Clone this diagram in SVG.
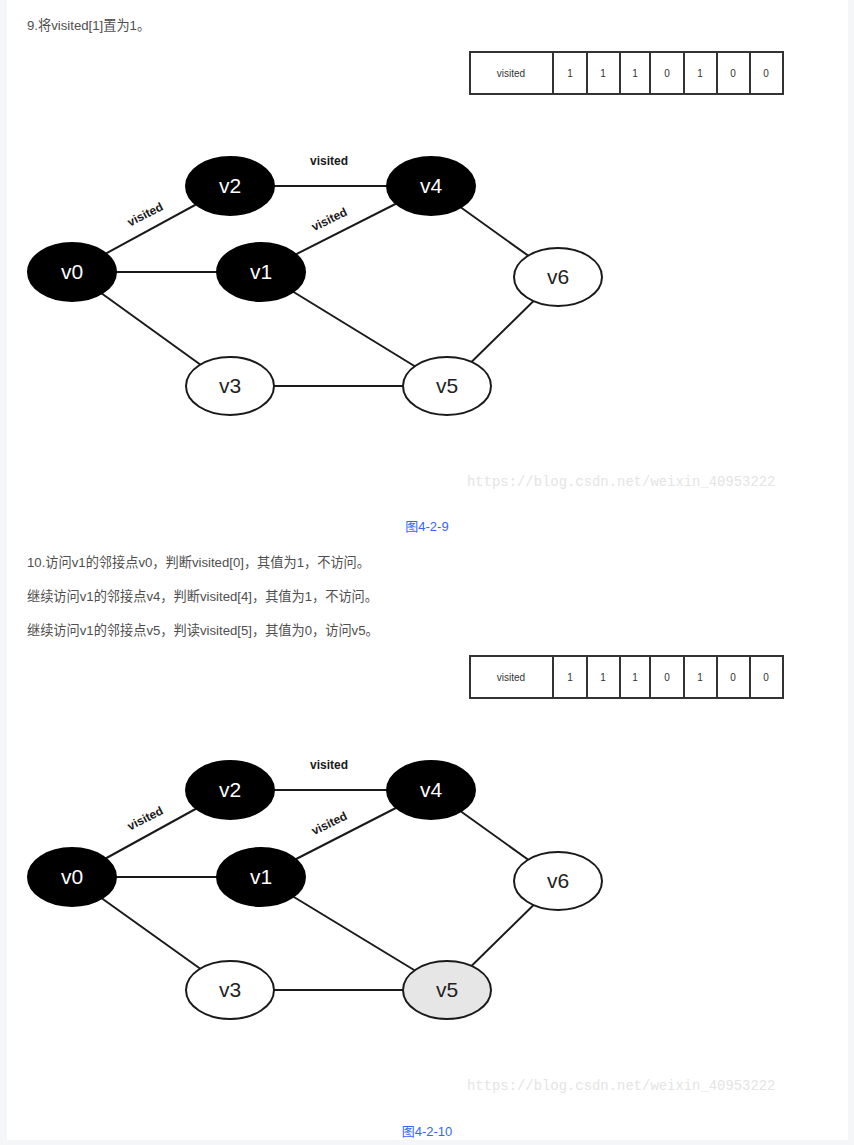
<svg xmlns="http://www.w3.org/2000/svg" width="854" height="1145" viewBox="0 0 854 1145">
<style>
.body{font-family:"Liberation Sans","Noto Sans CJK SC",sans-serif;font-size:13.2px;fill:#4f4f4f}
.cap{font-family:"Liberation Sans","Noto Sans CJK SC",sans-serif;font-size:13px;fill:#3366ff;text-anchor:middle}
.wm{font-family:"Liberation Mono",monospace;font-size:13.9px;fill:#e4e4e4}
.cell{fill:#fff;stroke:#333;stroke-width:2}
.ct{font-family:"Liberation Sans",sans-serif;font-size:10px;fill:#333;text-anchor:middle}
.edge{stroke:#1a1a1a;stroke-width:2;fill:none}
.elab{font-family:"Liberation Sans",sans-serif;font-size:12px;font-weight:bold;fill:#1a1a1a;text-anchor:middle}
.nb{fill:#000;stroke:#000;stroke-width:2}
.nw{fill:#fff;stroke:#1a1a1a;stroke-width:2}
.ng{fill:#e6e6e6;stroke:#1a1a1a;stroke-width:2}
.lb{font-family:"Liberation Sans",sans-serif;font-size:21px;fill:#fff;text-anchor:middle}
.lw{font-family:"Liberation Sans",sans-serif;font-size:21px;fill:#222;text-anchor:middle}
</style>
<rect x="0" y="0" width="854" height="1145" fill="#f5f6f7"/>
<rect x="7" y="0" width="841" height="1140" fill="#fff"/>

<text class="body" x="27" y="30">9.将visited[1]置为1。</text>

<g id="arr1">
<rect class="cell" x="470" y="52" width="83" height="42"/>
<rect class="cell" x="553" y="52" width="34" height="42"/>
<rect class="cell" x="587" y="52" width="33" height="42"/>
<rect class="cell" x="620" y="52" width="30" height="42"/>
<rect class="cell" x="650" y="52" width="34" height="42"/>
<rect class="cell" x="684" y="52" width="33" height="42"/>
<rect class="cell" x="717" y="52" width="33" height="42"/>
<rect class="cell" x="750" y="52" width="33" height="42"/>
<text class="ct" x="511" y="77">visited</text>
<text class="ct" x="570" y="77">1</text>
<text class="ct" x="603" y="77">1</text>
<text class="ct" x="635" y="77">1</text>
<text class="ct" x="667" y="77">0</text>
<text class="ct" x="700" y="77">1</text>
<text class="ct" x="733" y="77">0</text>
<text class="ct" x="766" y="77">0</text>
</g>

<g id="edges1">
<line class="edge" x1="72" y1="272" x2="230" y2="186"/>
<line class="edge" x1="72" y1="272" x2="261" y2="272"/>
<line class="edge" x1="72" y1="272" x2="230" y2="386"/>
<line class="edge" x1="230" y1="186" x2="431" y2="186"/>
<line class="edge" x1="261" y1="272" x2="431" y2="186"/>
<line class="edge" x1="261" y1="272" x2="447" y2="386"/>
<line class="edge" x1="431" y1="186" x2="558" y2="277"/>
<line class="edge" x1="558" y1="277" x2="447" y2="386"/>
<line class="edge" x1="230" y1="386" x2="447" y2="386"/>
<text class="elab" x="329" y="165">visited</text>
<text class="elab" transform="translate(147,218) rotate(-27)">visited</text>
<text class="elab" transform="translate(331,223) rotate(-26)">visited</text>
</g>

<g id="g1-v0"><ellipse class="nb" cx="72" cy="272" rx="44" ry="29"/><text class="lb" x="72" y="279">v0</text></g>
<g id="g1-v1"><ellipse class="nb" cx="261" cy="272" rx="44" ry="29"/><text class="lb" x="261" y="279">v1</text></g>
<g id="g1-v2"><ellipse class="nb" cx="230" cy="186" rx="44" ry="29"/><text class="lb" x="230" y="193">v2</text></g>
<g id="g1-v3"><ellipse class="nw" cx="230" cy="386" rx="44" ry="29"/><text class="lw" x="230" y="393">v3</text></g>
<g id="g1-v4"><ellipse class="nb" cx="431" cy="186" rx="44" ry="29"/><text class="lb" x="431" y="193">v4</text></g>
<g id="g1-v5"><ellipse class="nw" cx="447" cy="386" rx="44" ry="29"/><text class="lw" x="447" y="393">v5</text></g>
<g id="g1-v6"><ellipse class="nw" cx="558" cy="277" rx="44" ry="29"/><text class="lw" x="558" y="284">v6</text></g>

<text class="wm" x="467" y="486">https://blog.csdn.net/weixin_40953222</text>
<text class="cap" x="427" y="531">图4-2-9</text>

<text class="body" x="27" y="567">10.访问v1的邻接点v0，判断visited[0]，其值为1，不访问。</text>
<text class="body" x="27" y="601">继续访问v1的邻接点v4，判断visited[4]，其值为1，不访问。</text>
<text class="body" x="27" y="635">继续访问v1的邻接点v5，判读visited[5]，其值为0，访问v5。</text>

<g id="arr2">
<rect class="cell" x="470" y="656" width="83" height="42"/>
<rect class="cell" x="553" y="656" width="34" height="42"/>
<rect class="cell" x="587" y="656" width="33" height="42"/>
<rect class="cell" x="620" y="656" width="30" height="42"/>
<rect class="cell" x="650" y="656" width="34" height="42"/>
<rect class="cell" x="684" y="656" width="33" height="42"/>
<rect class="cell" x="717" y="656" width="33" height="42"/>
<rect class="cell" x="750" y="656" width="33" height="42"/>
<text class="ct" x="511" y="681">visited</text>
<text class="ct" x="570" y="681">1</text>
<text class="ct" x="603" y="681">1</text>
<text class="ct" x="635" y="681">1</text>
<text class="ct" x="667" y="681">0</text>
<text class="ct" x="700" y="681">1</text>
<text class="ct" x="733" y="681">0</text>
<text class="ct" x="766" y="681">0</text>
</g>

<g id="edges2">
<line class="edge" x1="72" y1="877" x2="230" y2="790"/>
<line class="edge" x1="72" y1="877" x2="261" y2="877"/>
<line class="edge" x1="72" y1="877" x2="230" y2="990"/>
<line class="edge" x1="230" y1="790" x2="431" y2="790"/>
<line class="edge" x1="261" y1="877" x2="431" y2="790"/>
<line class="edge" x1="261" y1="877" x2="447" y2="990"/>
<line class="edge" x1="431" y1="790" x2="558" y2="881"/>
<line class="edge" x1="558" y1="881" x2="447" y2="990"/>
<line class="edge" x1="230" y1="990" x2="447" y2="990"/>
<text class="elab" x="329" y="769">visited</text>
<text class="elab" transform="translate(147,822) rotate(-27)">visited</text>
<text class="elab" transform="translate(331,827) rotate(-26)">visited</text>
</g>

<g id="g2-v0"><ellipse class="nb" cx="72" cy="877" rx="44" ry="29"/><text class="lb" x="72" y="884">v0</text></g>
<g id="g2-v1"><ellipse class="nb" cx="261" cy="877" rx="44" ry="29"/><text class="lb" x="261" y="884">v1</text></g>
<g id="g2-v2"><ellipse class="nb" cx="230" cy="790" rx="44" ry="29"/><text class="lb" x="230" y="797">v2</text></g>
<g id="g2-v3"><ellipse class="nw" cx="230" cy="990" rx="44" ry="29"/><text class="lw" x="230" y="997">v3</text></g>
<g id="g2-v4"><ellipse class="nb" cx="431" cy="790" rx="44" ry="29"/><text class="lb" x="431" y="797">v4</text></g>
<g id="g2-v5"><ellipse class="ng" cx="447" cy="990" rx="44" ry="29"/><text class="lw" x="447" y="997">v5</text></g>
<g id="g2-v6"><ellipse class="nw" cx="558" cy="881" rx="44" ry="29"/><text class="lw" x="558" y="888">v6</text></g>

<text class="wm" x="467" y="1090">https://blog.csdn.net/weixin_40953222</text>
<text class="cap" x="427" y="1136">图4-2-10</text>
</svg>
